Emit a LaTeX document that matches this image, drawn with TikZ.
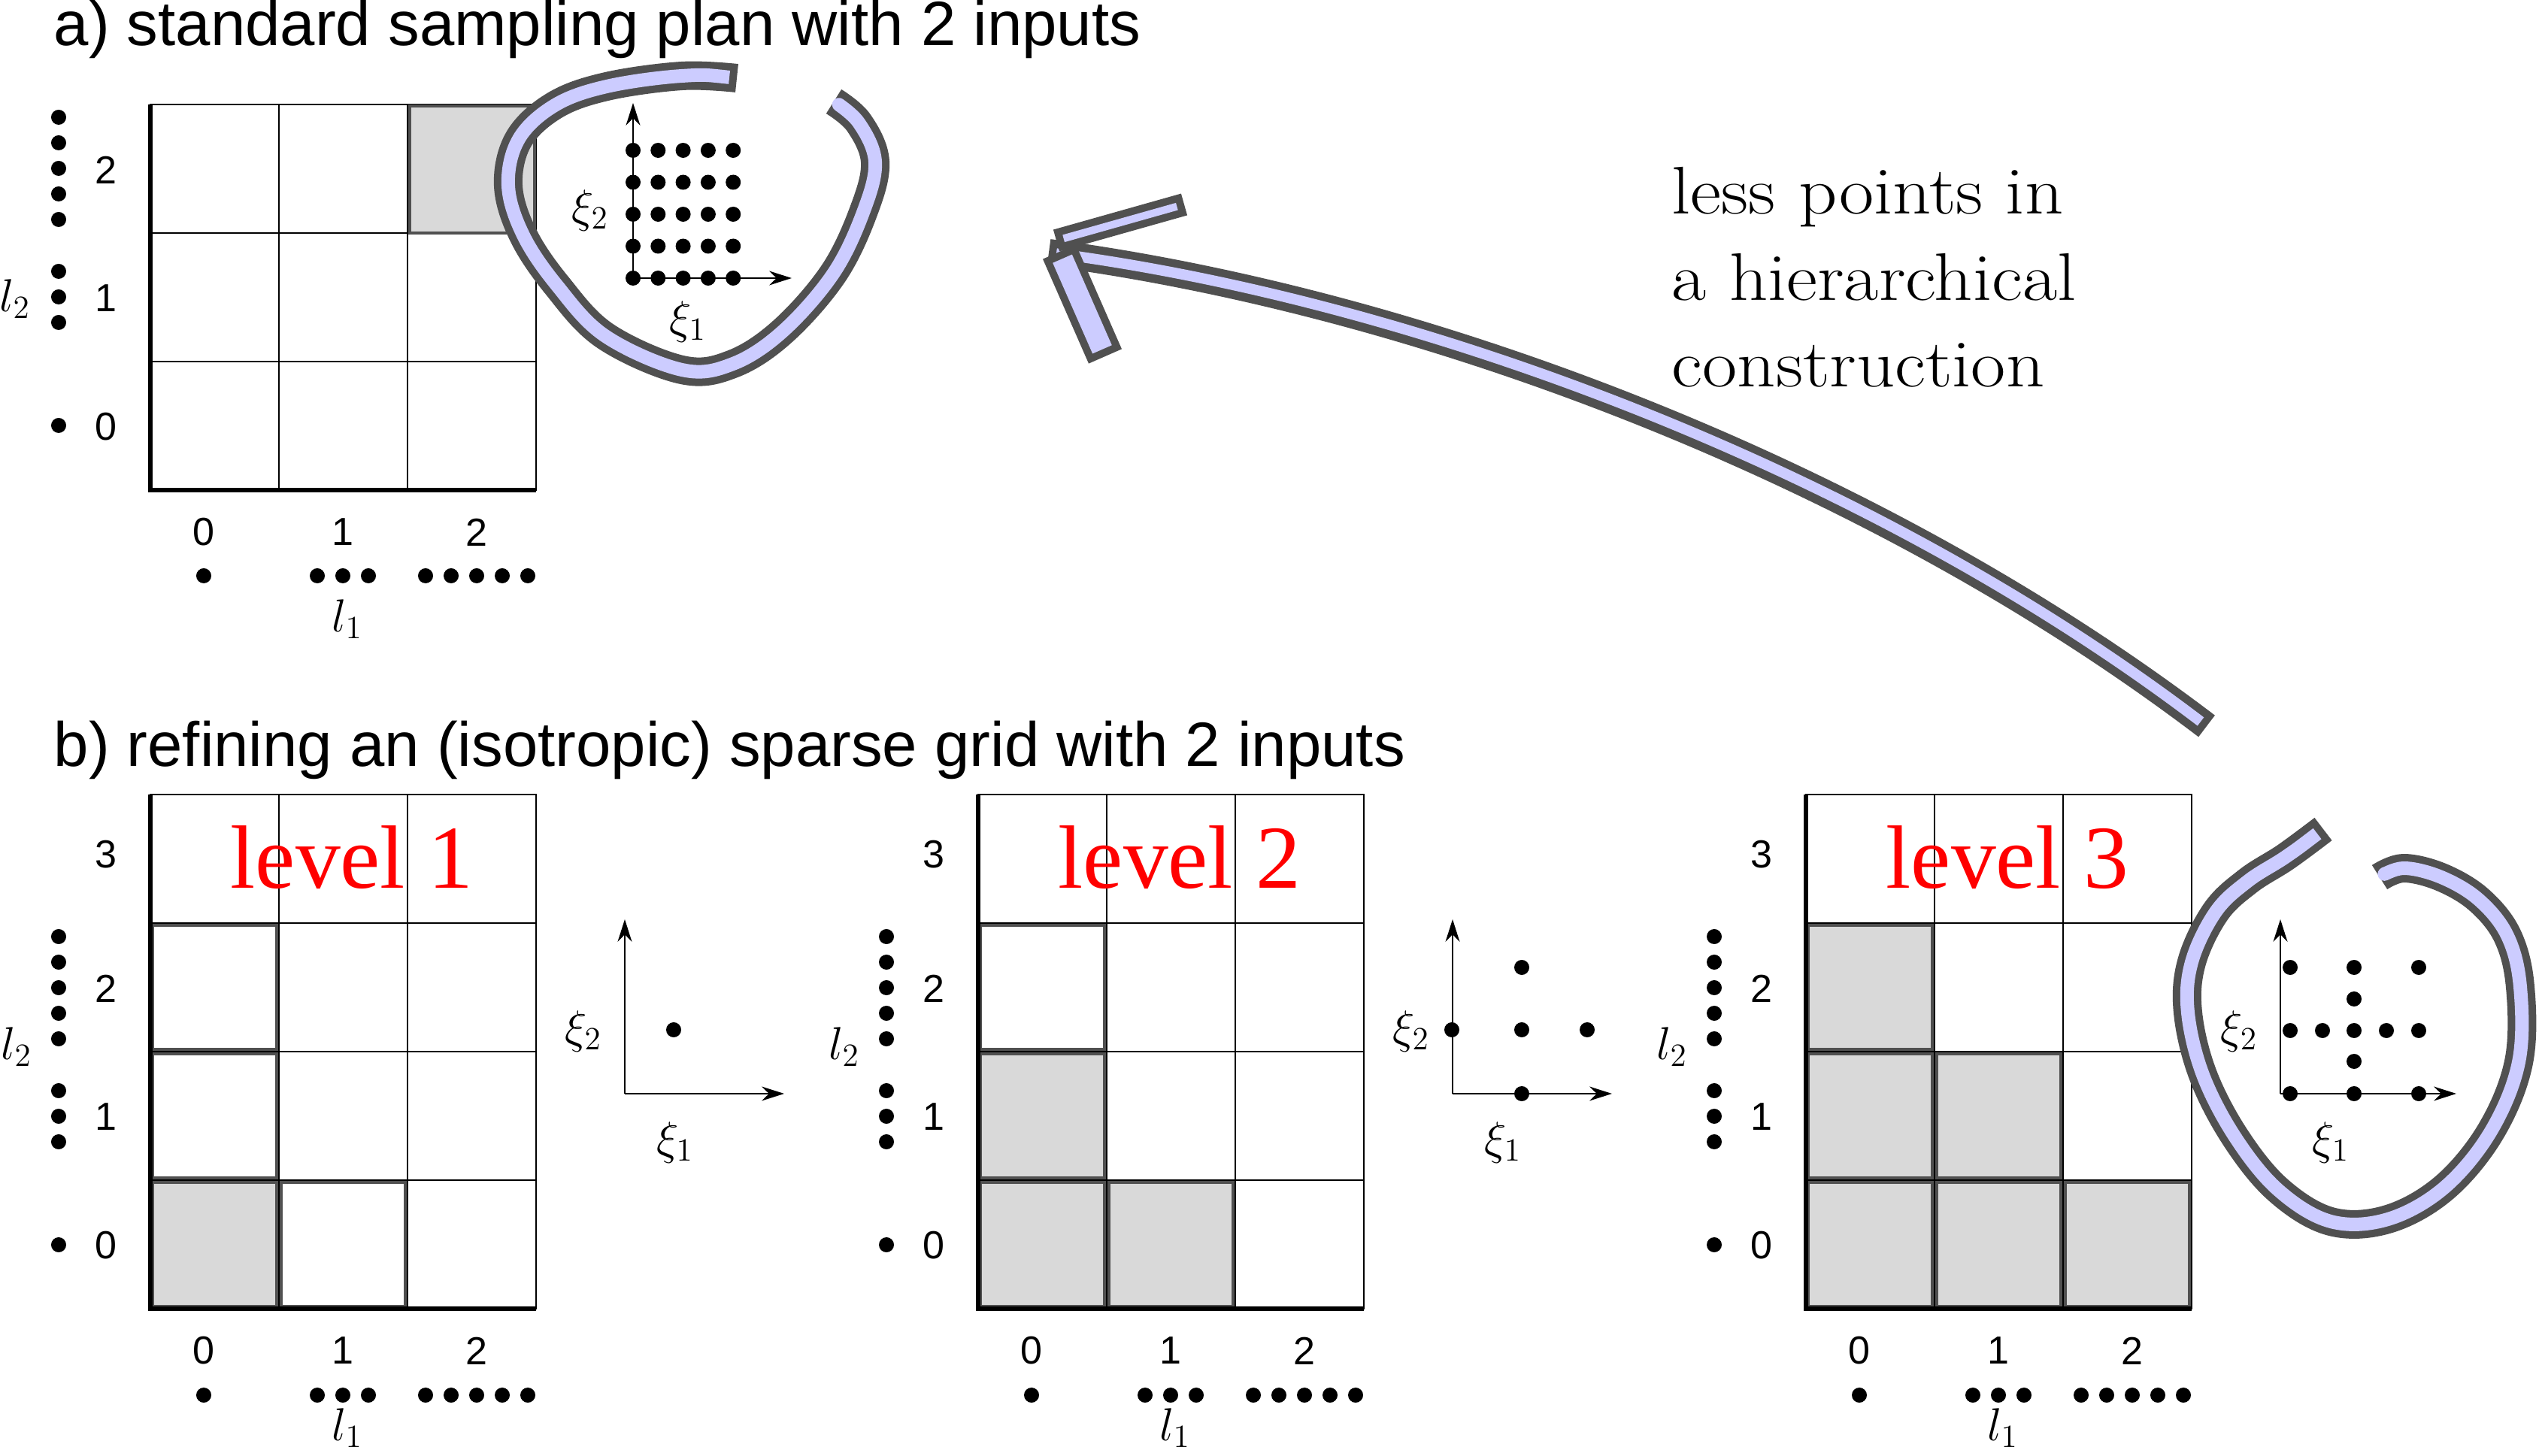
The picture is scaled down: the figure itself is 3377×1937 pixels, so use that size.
\RequirePackage{fix-cm}
\documentclass[tikz,border=0pt]{standalone}
\usepackage{fontspec}
\usetikzlibrary{arrows.meta}
\newfontfamily\sansfont{Liberation Sans}
\newfontfamily\levelfont{Liberation Serif}
\definecolor{edgegray}{HTML}{505050}
\definecolor{bandblue}{HTML}{CCCCFF}
\definecolor{cellgray}{HTML}{D9D9D9}
\tikzset{>={Stealth[length=8.5pt,width=5.4pt]},
  gridline/.style={draw=black, line width=0.6pt},
  frame/.style={draw=black, line width=1.5pt},
  oncell/.style={draw=edgegray, fill=cellgray, line width=1.4pt},
  opencell/.style={draw=edgegray, line width=1.4pt},
  axis/.style={->, line width=0.6pt},
  title/.style={font=\sansfont\fontsize{23.7}{28}\selectfont, anchor=base west, inner sep=0},
  num/.style={font=\sansfont\fontsize{14.8}{17}\selectfont, inner sep=0},
  sym/.style={font=\fontsize{17.5}{21}\selectfont, inner sep=0},
  lvl/.style={font=\levelfont\fontsize{34}{40}\selectfont, text=red, anchor=base west, inner sep=0},
  note/.style={font=\fontsize{25.5}{32.7}\selectfont, xscale=1.12, align=left, anchor=north west, inner sep=0},
  brushedge/.style={draw=edgegray, line width=0.38cm, line join=round},
  brushcore/.style={draw=bandblue, line width=0.18cm, line join=round, shorten <=0.1cm, shorten >=0.1cm},
}
\newcommand{\brush}[1]{\draw[brushedge] #1; \draw[brushcore] #1;}

\begin{document}
\begin{tikzpicture}[x=0.01cm, y=-0.01cm]
  \useasboundingbox (0,0) rectangle (3377,1937);

  % a) full grid
  \node[title] (titleA) at (71,61) {a) standard sampling plan with 2 inputs};
  \foreach \c in {0,1,2} \foreach \r in {0,1,2}
    \draw[gridline] (200+171*\c,652-171*\r) rectangle ++(171,-171);
  \draw[oncell] (545,310) rectangle ++(166,-169);
  \draw[frame] (200,139) -- (200,652) -- (713,652);
  \foreach \r/\n in {0/1, 1/3, 2/5} {
    \node[num] (ya-\r) at (141,568-171*\r) {\r};
    \foreach \k in {1,...,\n}
      \fill (78,{566-171*\r+(\k-(\n+1)/2)*34}) circle[radius=0.1cm];
  }
  \foreach \c/\dx/\n in {0/71/1, 1/256/3, 2/434/5} {
    \node[num] (xa-\c) at (200+\dx,708) {\c};
    \foreach \k in {1,...,\n}
      \fill ({200+\dx+(\k-(\n+1)/2)*34},766) circle[radius=0.1cm];
  }
  \node[sym] (l1a) at (462,824) {$l_1$};
  \node[sym] (l2a) at (20,398) {$l_2$};
  \coordinate (oa) at (842,370);
  \draw[axis] (oa) -- ++(0,-233);
  \draw[axis] (oa) -- ++(211,0);
  \foreach \i in {0,...,4} \foreach \j in {0,...,4}
    \fill (842+33.3*\i,370-42.5*\j) circle[radius=0.1cm];
  \node[sym] (xi2a) at (785,280) {$\xi_2$};
  \node[sym] (xi1a) at (915,428) {$\xi_1$};

  % b) sparse grids, three levels
  \node[title] (titleB) at (71,1020) {b) refining an (isotropic) sparse grid with 2 inputs};
  \foreach \xo/\lv/\ax in {200/1/212, 1301/2/212, 2402/3/234} {
    \foreach \c in {0,1,2} \foreach \r in {0,...,3}
      \draw[gridline] (\xo+171*\c,1741-171*\r) rectangle ++(171,-171);
    \foreach \r/\n in {0/1, 1/3, 2/5} {
      \node[num] (y\lv-\r) at (\xo-59,1657-171*\r) {\r};
      \foreach \k in {1,...,\n}
        \fill (\xo-122,{1656-171*\r+(\k-(\n+1)/2)*34}) circle[radius=0.1cm];
    }
    \node[num] (y\lv-3) at (\xo-59,1137) {3};
    \foreach \c/\dx/\n in {0/71/1, 1/256/3, 2/434/5} {
      \node[num] (x\lv-\c) at (\xo+\dx,1797) {\c};
      \foreach \k in {1,...,\n}
        \fill ({\xo+\dx+(\k-(\n+1)/2)*34},1856) circle[radius=0.1cm];
    }
    \node[sym] (l1-\lv) at (\xo+262,1900) {$l_1$};
    \node[sym] (l2-\lv) at (\xo-178,1393) {$l_2$};
    \coordinate (o\lv) at (\xo+631,1455);
    \draw[axis] (o\lv) -- ++(0,-232);
    \draw[axis] (o\lv) -- ++(\ax,0);
    \node[sym] (xi2-\lv) at (\xo+576,1372) {$\xi_2$};
    \node[sym] (xi1-\lv) at (\xo+698,1520) {$\xi_1$};
  }
  \foreach \xo/\c/\r in {200/0/0, 1301/0/0, 1301/0/1, 1301/1/0, 2402/0/0, 2402/0/1,
                         2402/0/2, 2402/1/0, 2402/1/1, 2402/2/0}
    \draw[oncell] (\xo+171*\c+3,1741-171*\r-3) rectangle ++(165,-165);
  \foreach \xo/\c/\r in {200/0/1, 200/0/2, 200/1/0, 1301/0/2}
    \draw[opencell] (\xo+171*\c+3,1741-171*\r-3) rectangle ++(165,-165);
  \foreach \xo in {200,1301,2402}
    \draw[frame] (\xo,1057) -- (\xo,1741) -- (\xo+513,1741);
  \foreach \xo/\lv in {200/1, 1301/2, 2402/3}
    \node[lvl] (lvl\lv) at (\xo+106,1182) {level \lv};

  % points of each level
  \fill (896,1370) circle[radius=0.1cm];
  \foreach \p in {(2024,1287), (1931,1370), (2024,1370), (2111,1370), (2024,1455)}
    \fill \p circle[radius=0.1cm];
  \foreach \p in {(3046,1287), (3131,1287), (3217,1287), (3131,1329), (3046,1371),
                  (3089,1371), (3131,1371), (3174,1371), (3217,1371), (3131,1412),
                  (3046,1455), (3131,1455), (3217,1455)}
    \fill \p circle[radius=0.1cm];

  % hand drawn loops and arrow
  \brush{plot[smooth, tension=0.6] coordinates {(980,104) (907,101) (807,115) (738,140)
    (690,185) (676,247) (696,313) (741,380) (805,447) (907,492) (975,484) (1042,440)
    (1109,363) (1149,280) (1164,215) (1142,163) (1109,135)}}
  \brush{plot[smooth, tension=0.6] coordinates {(3090,1103) (3040,1140) (2990,1172)
    (2947,1213) (2915,1280) (2910,1347) (2930,1430) (2973,1513) (3030,1583) (3100,1625)
    (3176,1622) (3251,1580) (3313,1505) (3350,1413) (3352,1313) (3335,1245) (3297,1197)
    (3247,1167) (3197,1155) (3165,1167)}}
  \draw[brushedge, line width=0.36cm] (2935,966) .. controls (2480,620) and (1880,400) .. (1395,336);
  \draw[brushcore, line width=0.14cm] (2935,966) .. controls (2480,620) and (1880,400) .. (1395,336);
  \draw[brushedge, line width=0.30cm] (1405,320) -- (1575,272);
  \draw[brushcore, line width=0.10cm] (1405,320) -- (1575,272);
  \draw[brushedge, line width=0.48cm] (1409,335) -- (1470,474);
  \draw[brushcore, line width=0.28cm] (1409,335) -- (1470,474);

  \node[note] (note) at (2223,222) {less points in\\a hierarchical\\construction};
\end{tikzpicture}
\end{document}
